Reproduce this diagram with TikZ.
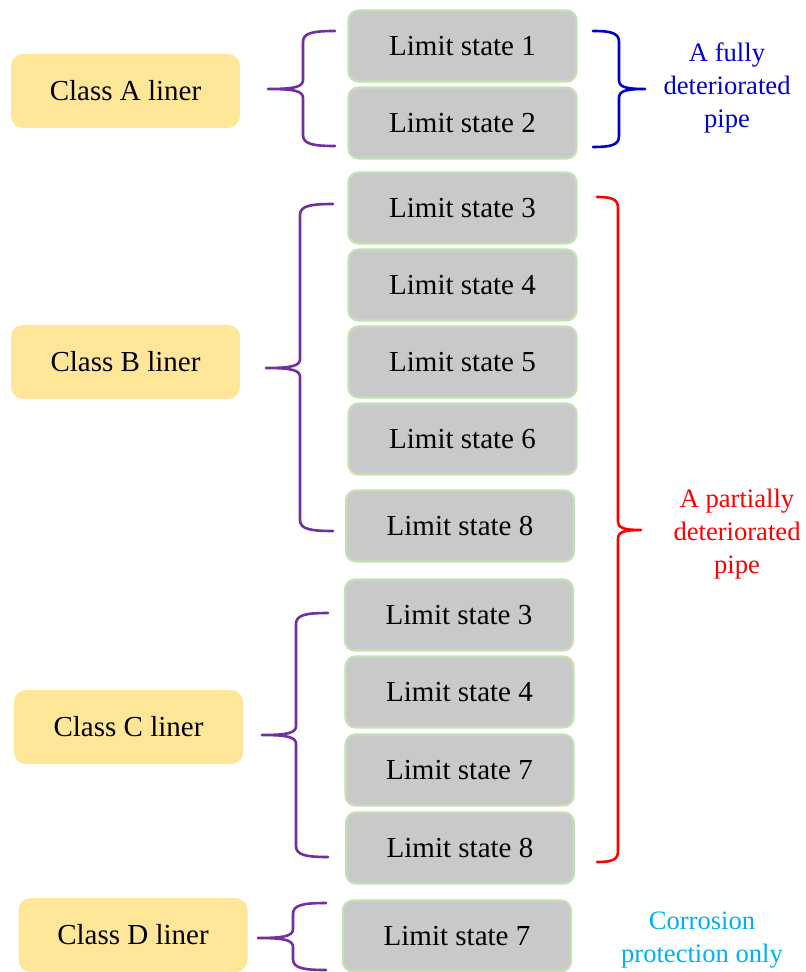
\documentclass[tikz,border=0pt]{standalone}
\usepackage{fontspec}
\setmainfont{Liberation Serif}
\usepackage{tikz}
\usetikzlibrary{positioning,calc}
\definecolor{ClassYellow}{RGB}{255,230,153}
\definecolor{StateGray}{RGB}{201,201,201}
\definecolor{StateGreen}{RGB}{197,224,180}
\definecolor{BracePurple}{RGB}{112,48,160}
\definecolor{FullBlue}{RGB}{0,0,200}
\definecolor{PartRed}{RGB}{255,0,0}
\definecolor{CorrCyan}{RGB}{0,176,240}
\tikzset{
  liner/.style={fill=ClassYellow,rounded corners=6pt,minimum width=114.5pt,
    minimum height=37pt,font=\fontsize{14.5}{17}\selectfont},
  state/.style={draw=StateGreen,fill=StateGray,line width=1.1pt,rounded corners=5pt,
    minimum width=114pt,minimum height=35.5pt,font=\fontsize{14.5}{17}\selectfont},
  note/.style={align=center,font=\fontsize{13.3}{16.5}\selectfont},
  curly/.style={line width=1.3pt,line cap=round,line join=round},
}
% #1 colour, #2 x of the ends, #3 x of the spine, #4 x of the tip,
% #5 y top, #6 y tip, #7 y bottom
\newcommand{\curly}[7]{%
  \draw[curly,#1] (#2,#5) .. controls ({#3+0.3*(#2-#3)},#5) and (#3,{#5+2}) .. (#3,{#5+11})
    -- (#3,{#6-9}) .. controls (#3,{#6-2}) and ({#3+0.25*(#4-#3)},#6) .. (#4,#6)
    .. controls ({#3+0.25*(#4-#3)},#6) and (#3,{#6+2}) .. (#3,{#6+9})
    -- (#3,{#7-11}) .. controls (#3,{#7-2}) and ({#3+0.3*(#2-#3)},#7) .. (#2,#7);}

\begin{document}
\begin{tikzpicture}[x=0.5pt,y=-0.5pt]
\useasboundingbox (0,0) rectangle (805,972);
% liner classes
\node[liner] (ca) at (125.5,91) {Class A liner};
\node[liner] (cb) at (125.5,362) {Class B  liner};
\node[liner] (cc) at (128.5,727) {Class C liner};
\node[liner] (cd) at (133,935) {Class D liner};
% limit states
\node[state] (s1) at (462.5,46) {Limit state 1};
\node[state] (s2) at (462.5,123) {Limit state 2};
\node[state] (s3) at (462.5,208) {Limit state 3};
\node[state] (s4) at (462.5,285) {Limit state 4};
\node[state] (s5) at (462.5,362) {Limit state 5};
\node[state] (s6) at (462.5,439) {Limit state 6};
\node[state] (s8) at (460,526) {Limit state 8};
\node[state] (t3) at (459,615) {Limit state 3};
\node[state] (t4) at (459.5,692) {Limit state 4};
\node[state] (t7) at (459.5,770) {Limit state 7};
\node[state] (t8) at (460,848) {Limit state 8};
\node[state] (d7) at (457,936) {Limit state 7};
% braces
\curly{BracePurple}{335}{303}{268}{31}{89}{146}
\curly{BracePurple}{333}{300}{266}{204}{368}{531}
\curly{BracePurple}{328}{296}{262}{613}{735}{857}
\curly{BracePurple}{326}{293}{258}{903}{938}{970}
\curly{FullBlue}{593}{619}{645}{31}{89}{147}
\curly{PartRed}{597}{618}{641}{197}{530}{862}
% pipe condition
\node[note,text=FullBlue] (full) at (727,88) {A fully\\deteriorated\\pipe};
\node[note,text=PartRed] (part) at (737,534) {A partially\\deteriorated\\pipe};
\node[note,text=CorrCyan] (corr) at (702,940) {Corrosion\\protection only};
\end{tikzpicture}
\end{document}
